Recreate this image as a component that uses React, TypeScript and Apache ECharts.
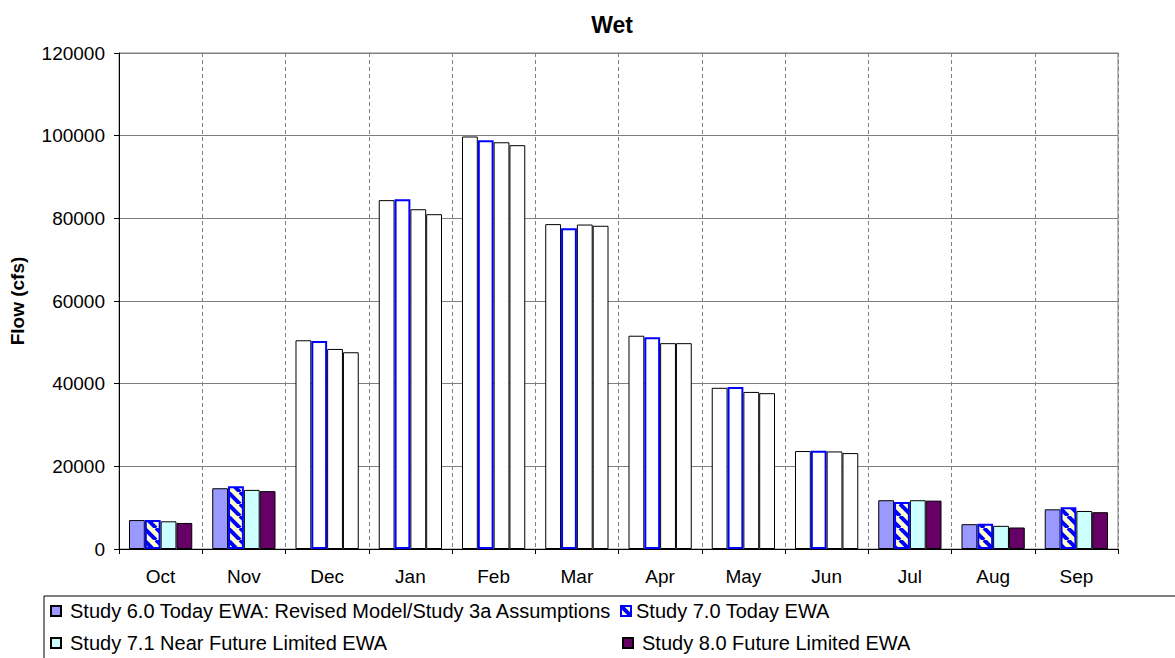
import React, { useEffect, useRef } from "react";
import * as echarts from "echarts";

const months = ["Oct", "Nov", "Dec", "Jan", "Feb", "Mar", "Apr", "May", "Jun", "Jul", "Aug", "Sep"];
const unfilledMonths = ["Dec", "Jan", "Feb", "Mar", "Apr", "May", "Jun"];

const seriesNames = [
  "Study 6.0 Today EWA: Revised Model/Study 3a Assumptions",
  "Study 7.0 Today EWA",
  "Study 7.1 Near Future Limited EWA",
  "Study 8.0 Future Limited EWA",
];

const study60 = [7000, 14700, 50500, 84400, 99800, 78600, 51600, 39000, 23700, 11800, 6000, 9600];
const study70 = [7000, 15200, 50300, 84600, 98900, 77600, 51200, 39200, 23800, 11400, 6100, 10100];
const study71 = [6700, 14300, 48400, 82200, 98400, 78500, 49800, 38000, 23600, 11800, 5600, 9200];
const study80 = [6300, 14000, 47600, 81000, 97700, 78200, 49800, 37700, 23200, 11700, 5200, 8900];

const yTicks = { min: 0, max: 120000, interval: 20000 };

const FONT = "Arial, 'Liberation Sans', Helvetica, sans-serif";

function makeStripe(): HTMLCanvasElement {
  const c = document.createElement("canvas");
  const s = 12;
  c.width = s;
  c.height = s;
  const ctx = c.getContext("2d")!;
  ctx.fillStyle = "#FFFFCC";
  ctx.fillRect(0, 0, s, s);
  ctx.strokeStyle = "#0000FF";
  ctx.lineWidth = 4;
  ctx.beginPath();
  for (let k = -1; k <= 1; k++) {
    ctx.moveTo(k * s, 0);
    ctx.lineTo(k * s + s, s);
  }
  ctx.stroke();
  return c;
}

export default function App() {
  const ref = useRef<HTMLDivElement>(null);
  useEffect(() => {
    if (!ref.current) return;
    const chart = echarts.init(ref.current, null, { renderer: "svg" });
    const stripe = makeStripe();
    const fills = [
      "#9999FF",
      { image: stripe, repeat: "repeat", imageWidth: 12, imageHeight: 12 } as any,
      "#CCFFFF",
      "#660066",
    ];
    const borders = ["#000000", "#0000FF", "#000000", "#000000"];
    const borderWidths = [1, 2, 1, 1];
    const values = [study60, study70, study71, study80];

    const series = values.map((vals, si) => ({
      name: seriesNames[si],
      type: "bar",
      barGap: "0%",
      barCategoryGap: "24%",
      itemStyle: { color: fills[si], borderColor: borders[si], borderWidth: borderWidths[si] },
      data: vals.map((v, i) =>
        unfilledMonths.includes(months[i]) ? { value: v, itemStyle: { color: "#FFFFFF" } } : v
      ),
    }));

    const legendPos = [
      { left: 50, top: 601 },
      { left: 620, top: 601 },
      { left: 50, top: 633 },
      { left: 622, top: 633 },
    ];
    const legends = seriesNames.map((n, i) => ({
      data: [n],
      left: legendPos[i].left,
      top: legendPos[i].top,
      padding: 0,
      itemWidth: 10,
      itemHeight: 10,
      icon: "rect",
      selectedMode: false,
      textStyle: { fontFamily: FONT, fontSize: 20, color: "#000", padding: [0, 0, 0, i === 1 ? 0 : 4] },
    }));

    chart.setOption({
      animation: false,
      backgroundColor: "#FFFFFF",
      textStyle: { fontFamily: FONT },
      title: {
        text: "Wet",
        left: 607,
        top: 8,
        textAlign: "center",
        textStyle: { fontFamily: FONT, fontSize: 23, fontWeight: "bold", color: "#000" },
      },
      grid: {
        left: 118,
        top: 53,
        width: 1000,
        height: 496,
        show: true,
        borderColor: "#808080",
        borderWidth: 1,
        containLabel: false,
      },
      legend: legends,
      graphic: [
        {
          type: "rect",
          shape: { x: 44, y: 596, width: 1200, height: 100 },
          style: { fill: "none", stroke: "#000", lineWidth: 1 },
          z: -1,
        },
      ],
      xAxis: {
        type: "category",
        data: months,
        boundaryGap: true,
        axisLine: { lineStyle: { color: "#000", width: 1 } },
        axisTick: { show: true, length: 5, interval: 0, lineStyle: { color: "#000" } },
        axisLabel: { fontFamily: FONT, fontSize: 19, color: "#000", margin: 18, interval: 0 },
        splitLine: { show: true, interval: 0, lineStyle: { color: "#808080", type: [4, 3], width: 1 } },
      },
      yAxis: {
        type: "value",
        min: yTicks.min,
        max: yTicks.max,
        interval: yTicks.interval,
        name: "Flow (cfs)",
        nameLocation: "middle",
        nameGap: 92,
        nameTextStyle: { fontFamily: FONT, fontSize: 19, fontWeight: "bold", color: "#000" },
        axisLine: { show: true, lineStyle: { color: "#000", width: 1 } },
        axisTick: { show: true, length: 5, lineStyle: { color: "#000" } },
        axisLabel: {
          fontFamily: FONT,
          fontSize: 19,
          color: "#000",
          margin: 14,
          formatter: (v: number) => String(v),
        },
        splitLine: { show: true, lineStyle: { color: "#808080", width: 1 } },
      },
      series,
    });
    return () => chart.dispose();
  }, []);
  return (
    <div
      ref={ref}
      style={{ position: "fixed", left: 0, top: 0, width: 1175, height: 658, background: "#fff" }}
    />
  );
}
